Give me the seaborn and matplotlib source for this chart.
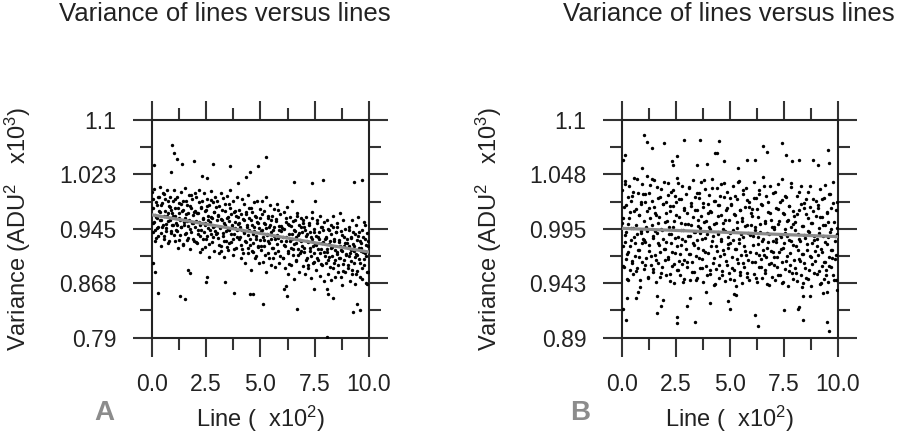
import matplotlib
matplotlib.use("Agg")
import matplotlib.pyplot as plt
from matplotlib.ticker import FixedLocator, AutoMinorLocator
import seaborn as sns
import pandas as pd

# ---------------- data (line index, variance in ADU^2) ----------------
# Panel A
a_lines = [
    1, 4, 6, 9, 12, 15, 18, 22, 24, 27, 31, 33, 36, 40, 43, 45, 49, 52, 55, 58, 61, 64, 67, 70, 73, 76, 79, 82, 85, 88, 91, 94, 97,
    100, 103, 106, 109, 112, 116, 118, 121, 125, 127, 130, 134, 137, 139, 143, 146, 149, 152, 155, 158, 161, 164, 167, 171, 173, 176, 180, 182, 185, 188, 192, 195, 198,
    201, 204, 207, 210, 213, 217, 219, 222, 226, 228, 231, 235, 238, 240, 244, 247, 250, 253, 256, 259, 262, 265, 268, 272, 274, 277, 281, 283, 286, 289, 293, 296, 299,
    300, 303, 306, 310, 312, 315, 319, 321, 324, 328, 330, 333, 337, 339, 342, 346, 348, 351, 355, 357, 360, 364, 366, 369, 373, 375, 378, 382, 384, 387, 391, 393, 397,
    401, 404, 407, 410, 414, 416, 419, 423, 425, 428, 432, 434, 437, 441, 443, 446, 450, 452, 455, 459, 461, 464, 468, 470, 473, 477, 479, 482, 486, 488, 491, 495, 497,
    500, 503, 506, 509, 513, 515, 518, 522, 524, 527, 531, 533, 536, 540, 542, 545, 549, 551, 554, 558, 560, 563, 567, 569, 572, 576, 578, 581, 585, 587, 590, 594, 596,
    601, 604, 607, 610, 613, 617, 619, 622, 626, 628, 631, 635, 637, 640, 644, 646, 649, 653, 655, 658, 662, 664, 667, 671, 673, 676, 680, 682, 685, 689, 691, 694, 698,
    700, 703, 706, 710, 712, 715, 719, 721, 724, 728, 730, 733, 737, 739, 742, 746, 748, 751, 755, 757, 760, 764, 766, 769, 773, 775, 778, 782, 784, 787, 791, 793, 797,
    800, 803, 807, 809, 812, 816, 818, 821, 825, 827, 830, 834, 836, 839, 843, 845, 848, 852, 854, 857, 861, 863, 866, 870, 872, 875, 879, 881, 884, 888, 890, 893, 897,
    901, 904, 906, 909, 913, 915, 918, 922, 924, 927, 931, 933, 936, 940, 942, 945, 949, 951, 954, 958, 960, 963, 967, 969, 972, 976, 978, 981, 985, 987, 990, 994, 997,
    2, 5, 8, 13, 16, 21, 23, 26, 30, 35, 38, 41, 44, 48, 53, 56, 58, 63, 66, 71, 74, 77, 80, 86, 89, 92, 96,
    101, 105, 108, 112, 115, 120, 124, 126, 131, 133, 137, 142, 145, 147, 151, 156, 159, 162, 166, 169, 174, 177, 181, 184, 189, 193, 197,
    203, 206, 211, 214, 218, 220, 224, 229, 232, 236, 239, 243, 246, 249, 254, 257, 261, 264, 267, 271, 275, 278, 282, 285, 288, 292, 298,
    302, 305, 309, 313, 317, 320, 323, 327, 332, 335, 338, 341, 345, 349, 352, 356, 358, 362, 367, 370, 374, 377, 380, 385, 388, 392, 396,
    402, 406, 409, 412, 417, 421, 424, 427, 430, 435, 438, 442, 445, 448, 453, 456, 460, 463, 466, 471, 474, 478, 481, 484, 489, 492, 498,
    501, 505, 508, 512, 516, 519, 523, 526, 530, 534, 537, 541, 544, 547, 551, 555, 558, 562, 565, 568, 573, 577, 580, 583, 588, 591, 595,
    602, 606, 609, 614, 616, 620, 625, 628, 632, 634, 639, 642, 646, 649, 652, 657, 660, 663, 666, 670, 674, 677, 681, 686, 688, 693, 697,
    701, 705, 708, 713, 716, 720, 723, 727, 731, 735, 738, 741, 745, 749, 753, 756, 759, 762, 767, 771, 774, 777, 781, 784, 789, 792, 796,
    802, 805, 810, 813, 817, 820, 823, 826, 831, 833, 837, 841, 844, 847, 851, 855, 858, 861, 865, 868, 873, 876, 880, 883, 887, 891, 895,
    902, 907, 910, 912, 916, 919, 923, 926, 930, 934, 937, 941, 944, 947, 952, 955, 959, 962, 965, 968, 973, 977, 980, 983, 988, 991, 996,
    92, 104, 115, 141, 195, 284, 360, 452, 491, 526, 10, 89, 230, 253, 399, 434, 655, 739, 790, 931, 969,
    27, 130, 153, 380, 452, 468, 511, 667, 609, 621, 747, 805, 810, 836, 928, 946, 959, 805,
    7, 14, 169, 176, 253, 250, 337, 616, 874, 989,
]
a_variance = [
    998, 941, 975, 1002, 955, 928, 983, 962, 946, 991, 935, 970, 1005, 957, 921, 979, 948, 996, 964, 931, 987, 952, 942, 1000, 968, 925, 977, 958, 991, 939, 972, 950, 984,
    963, 1001, 928, 975, 944, 990, 951, 918, 982, 960, 936, 997, 947, 971, 922, 985, 955, 938, 1003, 966, 929, 979, 949, 993, 958, 916, 974, 941, 988, 953, 931, 969, 996,
    948, 990, 925, 967, 938, 1001, 955, 912, 976, 943, 984, 930, 961, 996, 919, 950, 972, 935, 988, 957, 905, 979, 944, 999, 962, 926, 983, 947, 914, 969, 991, 937, 958,
    985, 932, 963, 910, 978, 946, 996, 921, 957, 989, 939, 905, 970, 951, 928, 992, 960, 915, 980, 943, 1000, 926, 966, 948, 908, 984, 937, 971, 955, 918, 990, 944, 962,
    930, 972, 948, 903, 988, 917, 959, 941, 980, 897, 966, 926, 951, 993, 910, 944, 975, 922, 957, 886, 969, 938, 912, 983, 947, 904, 962, 931, 985, 919, 954, 897, 973,
    961, 920, 985, 943, 898, 970, 929, 952, 884, 991, 938, 910, 964, 925, 948, 979, 893, 957, 918, 944, 903, 973, 931, 890, 959, 936, 980, 913, 949, 896, 966, 927, 942,
    946, 903, 969, 922, 889, 955, 933, 976, 910, 880, 951, 927, 962, 894, 938, 985, 916, 944, 873, 958, 925, 899, 967, 936, 908, 950, 884, 929, 961, 914, 941, 892, 957,
    912, 948, 881, 935, 962, 904, 926, 889, 953, 918, 941, 875, 969, 930, 897, 945, 910, 984, 922, 886, 957, 933, 901, 940, 878, 963, 917, 894, 948, 926, 871, 955, 907,
    934, 896, 958, 917, 880, 943, 905, 927, 872, 951, 919, 889, 964, 931, 900, 877, 941, 912, 948, 884, 926, 903, 968, 915, 876, 936, 895, 957, 921, 883, 945, 909, 930,
    925, 889, 948, 906, 871, 933, 915, 958, 880, 940, 897, 921, 866, 950, 909, 885, 935, 962, 902, 877, 927, 918, 944, 873, 912, 955, 893, 930, 868, 906, 939, 884, 920,
    974, 954, 987, 943, 965, 932, 979, 960, 948, 990, 969, 939, 957, 982, 951, 995, 935, 971, 946, 963, 984, 956, 927, 976, 942, 967, 950,
    936, 963, 987, 954, 942, 975, 929, 967, 957, 948, 981, 924, 972, 951, 961, 984, 939, 956, 968, 932, 977, 945, 993, 953, 965, 927, 970,
    956, 926, 967, 943, 983, 950, 935, 974, 917, 959, 940, 971, 953, 930, 978, 946, 964, 923, 955, 986, 938, 961, 933, 969, 949, 942, 976,
    939, 965, 922, 948, 959, 914, 972, 935, 954, 928, 981, 942, 919, 962, 945, 956, 925, 975, 937, 951, 931, 969, 916, 946, 964, 933, 952,
    953, 933, 966, 922, 944, 911, 958, 939, 927, 969, 948, 918, 936, 961, 930, 974, 914, 950, 925, 942, 963, 935, 906, 955, 921, 946, 929,
    915, 942, 966, 933, 921, 954, 908, 946, 936, 927, 960, 903, 951, 930, 940, 963, 918, 935, 947, 911, 956, 924, 972, 932, 944, 906, 949,
    934, 904, 945, 921, 961, 928, 913, 952, 895, 937, 918, 949, 931, 908, 956, 924, 942, 901, 933, 964, 916, 939, 911, 947, 927, 920, 954,
    918, 944, 901, 927, 938, 893, 951, 914, 933, 907, 960, 921, 898, 941, 924, 935, 904, 954, 916, 930, 910, 948, 895, 925, 943, 912, 931,
    932, 912, 945, 901, 923, 890, 937, 918, 906, 948, 927, 897, 915, 940, 909, 953, 893, 929, 904, 921, 942, 914, 885, 934, 900, 925, 908,
    893, 920, 944, 911, 899, 932, 886, 924, 914, 905, 938, 881, 929, 908, 918, 941, 896, 913, 925, 889, 934, 902, 950, 910, 922, 884, 927,
    1064, 1053, 1044, 1038, 1041, 1038, 1035, 1026, 1034, 1048, 1036, 1026, 1020, 1017, 1011, 1019, 1012, 1011, 1014, 1012, 1015,
    853, 849, 845, 854, 852, 852, 838, 831, 860, 849, 859, 859, 852, 847, 826, 838, 829, 791,
    896, 884, 886, 882, 877, 870, 870, 864, 865, 867,
]
a_fit_lines = [0, 500, 1000]
a_fit_variance = [965, 938.5, 912]

# Panel B
b_lines = [
    2, 4, 7, 10, 13, 16, 19, 21, 25, 28, 30, 34, 37, 39, 42, 46, 48, 51, 54, 57, 60, 63, 66, 69, 72, 75, 78, 81, 84, 87, 90, 93, 96, 99,
    101, 104, 108, 110, 113, 117, 119, 122, 126, 128, 131, 135, 138, 140, 144, 147, 150, 153, 156, 159, 162, 166, 168, 171, 174, 177, 181, 183, 186, 189, 192, 196, 199,
    201, 203, 207, 209, 212, 216, 218, 221, 225, 227, 230, 234, 236, 239, 243, 245, 248, 252, 254, 257, 261, 263, 266, 270, 272, 275, 279, 281, 284, 288, 290, 293, 297,
    300, 303, 306, 310, 312, 315, 319, 321, 324, 328, 330, 333, 337, 339, 342, 346, 348, 351, 355, 357, 360, 364, 366, 369, 373, 375, 378, 382, 384, 387, 391, 393, 397,
    401, 404, 407, 410, 414, 416, 419, 423, 425, 428, 432, 434, 437, 441, 443, 446, 450, 452, 455, 459, 461, 464, 468, 470, 473, 477, 479, 482, 486, 488, 491, 495, 497,
    500, 503, 506, 509, 513, 515, 518, 522, 524, 527, 531, 533, 536, 540, 542, 545, 549, 551, 554, 558, 560, 563, 567, 569, 572, 576, 578, 581, 585, 587, 590, 594, 596,
    601, 604, 607, 610, 613, 617, 619, 622, 626, 628, 631, 635, 637, 640, 644, 646, 649, 653, 655, 658, 662, 664, 667, 671, 673, 676, 680, 682, 685, 689, 691, 694, 698,
    700, 703, 706, 710, 712, 715, 719, 721, 724, 728, 730, 733, 737, 739, 742, 746, 748, 751, 755, 757, 760, 764, 766, 769, 773, 775, 778, 782, 784, 787, 791, 793, 797,
    800, 803, 807, 809, 812, 816, 818, 821, 825, 827, 830, 834, 836, 839, 843, 845, 848, 852, 854, 857, 861, 863, 866, 870, 872, 875, 879, 881, 884, 888, 890, 893, 897,
    901, 904, 906, 909, 913, 915, 918, 922, 924, 927, 931, 933, 936, 940, 942, 945, 949, 951, 954, 958, 960, 963, 967, 969, 972, 976, 978, 981, 985, 987, 990, 994, 997,
    3, 6, 9, 14, 17, 22, 24, 27, 31, 36, 39, 42, 45, 49, 54, 57, 59, 64, 67, 72, 75, 78, 81, 87, 90, 93, 97,
    102, 106, 109, 113, 116, 121, 125, 127, 132, 134, 138, 143, 146, 148, 152, 157, 160, 163, 167, 170, 175, 178, 182, 185, 190, 194, 198,
    204, 207, 212, 215, 219, 221, 225, 230, 233, 237, 240, 244, 247, 250, 255, 258, 262, 265, 268, 272, 276, 279, 283, 286, 289, 293, 299,
    303, 306, 310, 314, 318, 321, 324, 328, 333, 336, 339, 342, 346, 350, 353, 357, 359, 363, 368, 371, 375, 378, 381, 386, 389, 393, 397,
    403, 407, 410, 413, 418, 422, 425, 428, 431, 436, 439, 443, 446, 449, 454, 457, 461, 464, 467, 472, 475, 479, 482, 485, 490, 493, 499,
    502, 506, 509, 513, 517, 520, 524, 527, 531, 535, 538, 542, 545, 548, 552, 556, 559, 563, 566, 569, 574, 578, 581, 584, 589, 592, 596,
    603, 607, 610, 615, 617, 621, 626, 629, 633, 635, 640, 643, 647, 650, 653, 658, 661, 664, 667, 671, 675, 678, 682, 687, 689, 694, 698,
    702, 706, 709, 714, 717, 721, 724, 728, 732, 736, 739, 742, 746, 750, 754, 757, 760, 763, 768, 772, 775, 778, 782, 785, 790, 793, 797,
    803, 806, 811, 814, 818, 821, 824, 827, 832, 834, 838, 842, 845, 848, 852, 856, 859, 862, 866, 869, 874, 877, 881, 884, 888, 892, 896,
    903, 908, 911, 913, 917, 920, 924, 927, 931, 935, 938, 942, 945, 948, 953, 956, 960, 963, 966, 969, 974, 978, 981, 984, 989, 992, 996,
    105, 115, 141, 196, 288, 362, 450, 655, 670, 740, 955, 15, 5, 92, 231, 239, 257, 347, 396, 431, 442, 473, 536, 578, 616, 760, 786, 821, 886, 909, 960,
    5, 20, 26, 66, 77, 85, 165, 180, 192, 254, 256, 303, 316, 339, 390, 408, 493, 501, 519, 527, 616, 628, 752, 814, 821, 840, 840, 871, 929, 948, 948, 960, 994, 162,
]
b_variance = [
    1032, 978, 1005, 958, 1041, 989, 966, 1018, 947, 1000, 973, 1036, 955, 1011, 984, 962, 1027, 996, 951, 1044, 981, 969, 1014, 990, 957, 1030, 975, 1008, 946, 993, 1021, 963, 1038, 985,
    1003, 956, 1029, 982, 967, 1046, 993, 948, 1015, 974, 1037, 960, 999, 1022, 953, 986, 1042, 970, 1010, 944, 991, 1025, 962, 1006, 979, 949, 1033, 995, 958, 1019, 985, 1040, 965,
    976, 1021, 950, 1003, 1039, 968, 990, 1012, 945, 1031, 981, 959, 1017, 997, 943, 1027, 972, 1008, 955, 1044, 987, 964, 1024, 950, 1001, 979, 1036, 961, 994, 1015, 947, 983, 1029,
    1010, 958, 988, 1035, 971, 946, 1020, 999, 963, 1042, 981, 953, 1013, 992, 969, 1030, 948, 1004, 977, 1025, 957, 996, 1040, 966, 985, 1016, 944, 1002, 973, 1033, 959, 990, 1019,
    972, 1028, 995, 951, 1011, 983, 1043, 962, 1000, 941, 1022, 978, 956, 1034, 990, 1007, 948, 1018, 969, 985, 1038, 954, 1001, 975, 1026, 945, 993, 1013, 960, 1031, 980, 952, 1004,
    991, 947, 1019, 968, 1036, 984, 955, 1008, 976, 940, 1024, 996, 962, 1041, 981, 950, 1013, 970, 1003, 943, 1029, 987, 958, 1016, 974, 1034, 952, 999, 965, 1021, 946, 989, 1010,
    963, 1014, 988, 1040, 951, 997, 972, 1025, 944, 1006, 980, 958, 1032, 992, 966, 1019, 948, 985, 1045, 970, 1001, 955, 1027, 977, 942, 1011, 990, 961, 1036, 974, 1004, 949, 983,
    1030, 968, 995, 946, 1015, 982, 958, 1038, 1000, 973, 950, 1021, 987, 963, 1043, 977, 944, 1009, 991, 956, 1026, 969, 1003, 940, 984, 1017, 960, 997, 1035, 952, 979, 1012, 965,
    957, 1002, 978, 1027, 945, 990, 966, 1013, 983, 950, 1036, 971, 998, 943, 1020, 962, 986, 1009, 948, 975, 1031, 993, 955, 1016, 969, 940, 1001, 981, 1024, 952, 988, 964, 1007,
    985, 951, 1018, 970, 996, 942, 1033, 976, 959, 1006, 988, 947, 1025, 963, 999, 955, 1011, 980, 944, 1029, 968, 992, 958, 1015, 975, 1040, 950, 1002, 966, 983, 946, 1021, 990,
    1001, 959, 1016, 982, 1038, 992, 971, 1026, 946, 1005, 978, 1022, 996, 964, 1031, 987, 1012, 954, 999, 1043, 975, 1008, 968, 1019, 991, 981, 1029,
    984, 1021, 960, 997, 1012, 949, 1030, 979, 1005, 969, 1043, 988, 956, 1016, 993, 1008, 965, 1035, 981, 1001, 973, 1026, 952, 994, 1019, 976, 1002,
    1010, 982, 1028, 966, 997, 951, 1017, 990, 973, 1032, 1003, 961, 986, 1021, 978, 1039, 955, 1006, 971, 994, 1024, 985, 944, 1013, 965, 1000, 976,
    963, 1000, 1034, 988, 971, 1017, 953, 1006, 992, 979, 1026, 946, 1013, 984, 998, 1030, 967, 991, 1007, 957, 1020, 975, 1042, 986, 1003, 950, 1010,
    997, 955, 1012, 978, 1034, 988, 967, 1022, 942, 1001, 974, 1018, 992, 960, 1027, 983, 1008, 950, 995, 1039, 971, 1004, 964, 1015, 987, 977, 1025,
    981, 1018, 957, 994, 1009, 946, 1027, 976, 1002, 966, 1040, 985, 953, 1013, 990, 1005, 962, 1032, 978, 998, 970, 1023, 949, 991, 1016, 973, 999,
    1007, 979, 1025, 963, 994, 948, 1014, 987, 970, 1029, 1000, 958, 983, 1018, 975, 1036, 952, 1003, 968, 991, 1021, 982, 941, 1010, 962, 997, 973,
    960, 997, 1031, 985, 968, 1014, 950, 1003, 989, 976, 1023, 943, 1010, 981, 995, 1027, 964, 988, 1004, 954, 1017, 972, 1039, 983, 1000, 947, 1007,
    994, 952, 1009, 975, 1031, 985, 964, 1019, 939, 998, 971, 1015, 989, 957, 1024, 980, 1005, 947, 992, 1036, 968, 1001, 961, 1012, 984, 974, 1022,
    978, 1015, 954, 991, 1006, 943, 1024, 973, 999, 963, 1037, 982, 950, 1010, 987, 1002, 959, 1029, 975, 995, 967, 1020, 946, 988, 1013, 970, 996,
    1086, 1079, 1073, 1078, 1081, 1081, 1080, 1075, 1069, 1078, 1071, 1066, 1061, 1054, 1060, 1057, 1065, 1057, 1058, 1068, 1068, 1060, 1054, 1061, 1061, 1066, 1060, 1061, 1061, 1057, 1059,
    918, 907, 928, 928, 934, 939, 914, 921, 926, 910, 904, 921, 928, 905, 934, 923, 925, 918, 932, 931, 912, 901, 917, 918, 920, 907, 930, 930, 933, 934, 905, 896, 936, 930,
]
b_fit_lines = [0, 500, 1000]
b_fit_variance = [995.5, 991.5, 987.5]

x_ticks = [0, 2.5, 5, 7.5, 10]
x_tick_labels = ["0.0", "2.5", "5.0", "7.5", "10.0"]
a_y_ticks = [0.79, 0.8675, 0.945, 1.0225, 1.1]
a_y_tick_labels = ["0.79", "0.868", "0.945", "1.023", "1.1"]
b_y_ticks = [0.89, 0.9425, 0.995, 1.0475, 1.1]
b_y_tick_labels = ["0.89", "0.943", "0.995", "1.048", "1.1"]

title_text = "Variance of lines versus lines"
x_label = "Line (  x10$^2$)"
y_label = "Variance (ADU$^2$   x10$^3$)"
panel_letters = ["A", "B"]

# ---------------- styling ----------------
sns.set_theme(style="ticks")
plt.rcParams["font.family"] = ["Liberation Sans", "DejaVu Sans"]
plt.rcParams["mathtext.fontset"] = "custom"
plt.rcParams["mathtext.rm"] = "Liberation Sans"
plt.rcParams["mathtext.it"] = "Liberation Sans:italic"
plt.rcParams["mathtext.bf"] = "Liberation Sans:bold"
plt.rcParams["mathtext.default"] = "regular"

W, H = 904, 433
fig = plt.figure(figsize=(W / 100, H / 100), dpi=100)

ink = "#222222"


def px_axes(left, top, right, bottom):
    return fig.add_axes([left / W, 1 - bottom / H, (right - left) / W, (bottom - top) / H])


def style_axes(ax, yticks, ylabels, ylim):
    ax.set_xlim(0, 10)
    ax.set_ylim(*ylim)
    ax.xaxis.set_major_locator(FixedLocator(x_ticks))
    ax.set_xticklabels(x_tick_labels)
    ax.yaxis.set_major_locator(FixedLocator(yticks))
    ax.set_yticklabels(ylabels)
    ax.xaxis.set_minor_locator(AutoMinorLocator(2))
    ax.yaxis.set_minor_locator(AutoMinorLocator(2))
    ax.tick_params(which="both", direction="out", top=True, right=True,
                   color="#333333", width=1.5, labelsize=16.5, labelcolor=ink)
    ax.tick_params(which="major", length=13.5, pad=12)
    ax.tick_params(which="minor", length=8.5)
    for s in ax.spines.values():
        s.set_visible(True)
        s.set_color(ink)
        s.set_linewidth(1.5)
    ax.set_xlabel(x_label, fontsize=17, color=ink)
    ax.set_ylabel(y_label, fontsize=17, color=ink)
    ax.xaxis.set_label_coords(0.5, -0.305)
    ax.yaxis.set_label_coords(-0.545, 0.5)
    ax.set_facecolor("white")


panels = [
    (a_lines, a_variance, a_fit_lines, a_fit_variance, a_y_ticks, a_y_tick_labels, (0.79, 1.1),
     (151.7, 120, 369, 337.7), 225, 104),
    (b_lines, b_variance, b_fit_lines, b_fit_variance, b_y_ticks, b_y_tick_labels, (0.89, 1.1),
     (621.7, 120, 838, 337.7), 729, 580),
]

for i, (ln, var, fl, fv, yt, ytl, ylim, box, title_x, letter_x) in enumerate(panels):
    ax = px_axes(*box)
    df = pd.DataFrame({"line": [v / 100 for v in ln], "var": [v / 1000 for v in var]})
    fit = pd.DataFrame({"line": [v / 100 for v in fl], "var": [v / 1000 for v in fv]})
    sns.scatterplot(data=df, x="line", y="var", ax=ax, color="black", s=6,
                    marker="o", linewidth=0, zorder=3)
    sns.lineplot(data=fit, x="line", y="var", ax=ax, color="#8a8a8a", linewidth=2.3, zorder=4)
    style_axes(ax, yt, ytl, ylim)
    fig.text(title_x / W, 1 - 14 / H, title_text, ha="center", va="center",
             fontsize=18.5, color=ink)
    fig.text(letter_x / W, 1 - 413 / H, panel_letters[i], ha="center", va="center",
             fontsize=20, color="#8c8c8c", fontweight="bold")

fig.savefig("out.png", dpi=100, facecolor="white")
